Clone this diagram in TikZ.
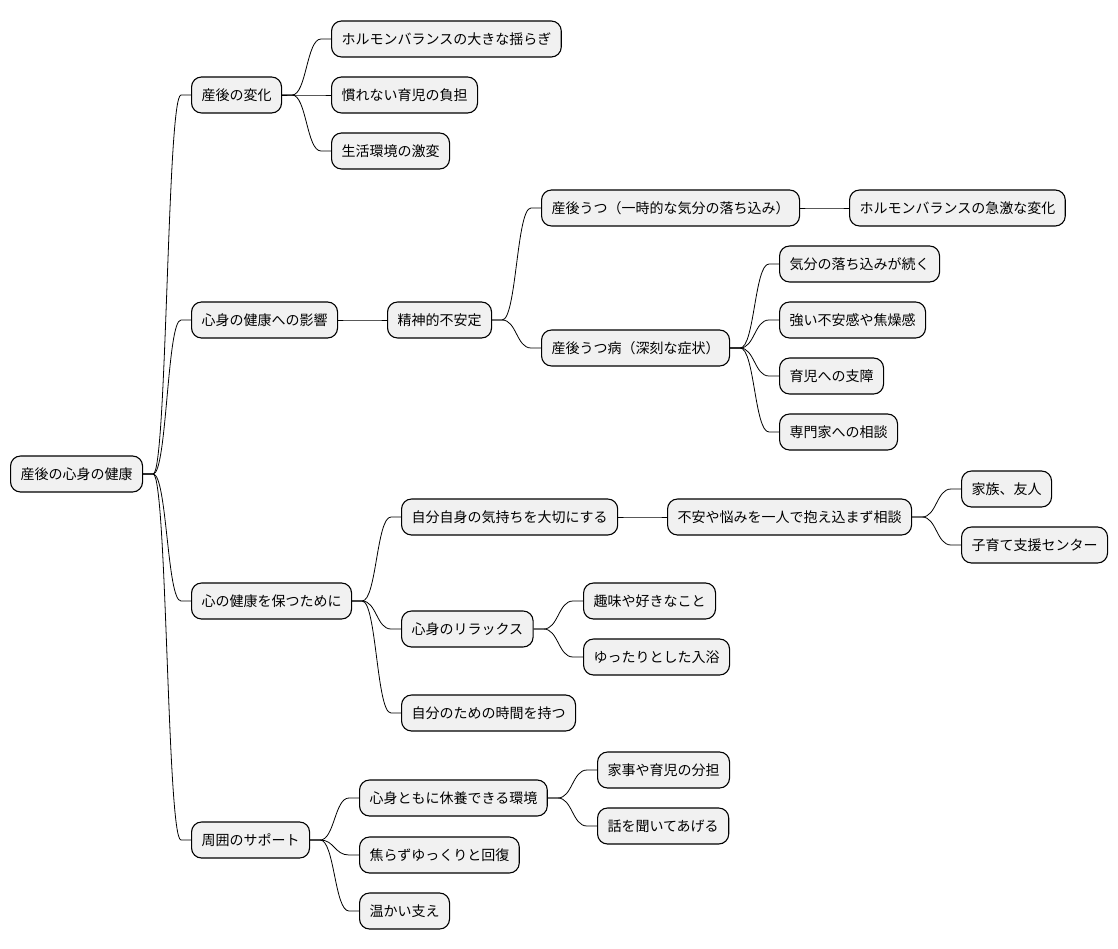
\documentclass[tikz,border=0pt]{standalone}
\usepackage{fontspec}
\setmainfont{Noto Sans CJK JP}
\usepackage{tikz}
\usepackage{xcolor}
\usetikzlibrary{calc}

\definecolor{boxgray}{HTML}{F1F1F1}

\begin{document}
\begin{tikzpicture}[x=1pt, y=-1pt,
        topic/.style={draw=black, line width=1.1pt, fill=boxgray, rounded corners=10pt,
            minimum height=36pt, inner xsep=10pt, inner ysep=0pt, anchor=west,
            font=\fontsize{14pt}{16pt}\selectfont},
        link/.style={black, line width=0.8pt}]
        % Fix the canvas
        \useasboundingbox (0,0) rectangle (1118,949);

        % Root
        \node[topic] (root) at (10,474) {産後の心身の健康};

        % Changes after birth
        \node[topic] (change) at (191,95) {産後の変化};
        \node[topic] (hormone) at (331,39) {ホルモンバランスの大きな揺らぎ};
        \node[topic] (burden) at (331,95) {慣れない育児の負担};
        \node[topic] (life) at (331,151) {生活環境の激変};

        % Effects on mind and body
        \node[topic] (impact) at (191,320) {心身の健康への影響};
        \node[topic] (unstable) at (387,320) {精神的不安定};
        \node[topic] (blues) at (541,208) {産後うつ（一時的な気分の落ち込み）};
        \node[topic] (hshift) at (849,208) {ホルモンバランスの急激な変化};
        \node[topic] (ppd) at (541,348) {産後うつ病（深刻な症状）};
        \node[topic] (mood) at (779,264) {気分の落ち込みが続く};
        \node[topic] (anxiety) at (779,320) {強い不安感や焦燥感};
        \node[topic] (care) at (779,376) {育児への支障};
        \node[topic] (expert) at (779,432) {専門家への相談};

        % Keeping the mind healthy
        \node[topic] (keep) at (191,601) {心の健康を保つために};
        \node[topic] (self) at (401,517) {自分自身の気持ちを大切にする};
        \node[topic] (talk) at (667,517) {不安や悩みを一人で抱え込まず相談};
        \node[topic] (family) at (961,489) {家族、友人};
        \node[topic] (center) at (961,545) {子育て支援センター};
        \node[topic] (relax) at (401,629) {心身のリラックス};
        \node[topic] (hobby) at (583,601) {趣味や好きなこと};
        \node[topic] (bath) at (583,657) {ゆったりとした入浴};
        \node[topic] (mytime) at (401,713) {自分のための時間を持つ};

        % Support from others
        \node[topic] (support) at (191,840) {周囲のサポート};
        \node[topic] (rest) at (359,798) {心身ともに休養できる環境};
        \node[topic] (chores) at (597,770) {家事や育児の分担};
        \node[topic] (listen) at (597,826) {話を聞いてあげる};
        \node[topic] (slow) at (359,855) {焦らずゆっくりと回復};
        \node[topic] (warm) at (359,911) {温かい支え};

        % Draw branches
        \foreach \a/\b in {root/change, root/impact, root/keep, root/support,
                change/hormone, change/burden, change/life,
                impact/unstable, unstable/blues, unstable/ppd, blues/hshift,
                ppd/mood, ppd/anxiety, ppd/care, ppd/expert,
                keep/self, keep/relax, keep/mytime, self/talk, talk/family, talk/center,
                relax/hobby, relax/bath,
                support/rest, support/slow, support/warm, rest/chores, rest/listen}
            \draw[link] let \p1=(\a.east), \p2=(\b.west) in
                (\p1) -- ++(10pt,0pt)
                .. controls ({0.5*(\x1+\x2)},\y1) and ({0.5*(\x1+\x2)},\y2) .. (\x2-10pt,\y2)
                -- (\p2);
    \end{tikzpicture}
\end{document}
